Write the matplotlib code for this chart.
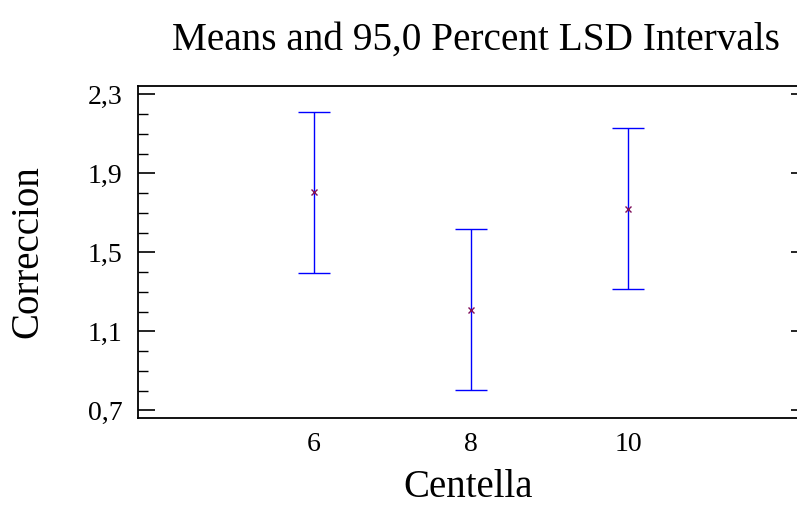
"""
Means and 95,0 Percent LSD Intervals - Correccion por Centella.
"""

import numpy as np
import matplotlib
matplotlib.use('Agg')
import matplotlib.pyplot as plt
from matplotlib.ticker import MultipleLocator

plt.rcParams['font.family'] = ['Liberation Serif', 'DejaVu Serif']

# Datos
levels = [6, 8, 10]
level_labels = ['6', '8', '10']
means = [1.805, 1.210, 1.720]
lower = [1.396, 0.804, 1.315]
upper = [2.212, 1.619, 2.130]

y_ticks = [0.7, 1.1, 1.5, 1.9, 2.3]
y_tick_labels = ['0,7', '1,1', '1,5', '1,9', '2,3']

LINE_COLOR = '#0000FF'
MARK_COLOR = '#80105A'

W, H = 797, 507
fig = plt.figure(figsize=(W / 100, H / 100), dpi=100)
ax = fig.add_axes([138 / W, 1 - 418 / H, (799 - 138) / W, (418 - 86) / H])

means = np.array(means)
err = [means - np.array(lower), np.array(upper) - means]
ax.errorbar(levels, means, yerr=err, fmt='none', ecolor=LINE_COLOR,
            elinewidth=1.0, capsize=11.5, capthick=1.0)
ax.plot(levels, means, linestyle='none', marker='x', markersize=5,
        markeredgewidth=1.0, color=MARK_COLOR)

ylim = (0.662, 2.343)
ax.set_xlim(3.755, 12.18)
ax.set_ylim(*ylim)

ax.set_xticks(levels)
ax.set_xticklabels(level_labels, fontsize=20)
ax.set_yticks(y_ticks)
ax.set_yticklabels(y_tick_labels, fontsize=20)
ax.yaxis.set_minor_locator(MultipleLocator(0.1))

ax.tick_params(axis='x', length=0, pad=10)
ax.tick_params(axis='y', which='major', direction='in', length=12, width=1.2,
               right=False, pad=11)
ax.tick_params(axis='y', which='minor', direction='in', length=7, width=1.0,
               right=False)

# ticks cortos en el lado derecho
ax_r = ax.twinx()
ax_r.set_ylim(*ylim)
ax_r.set_yticks(y_ticks)
ax_r.set_yticklabels([])
ax_r.tick_params(axis='y', direction='in', length=6, width=1.2)
for sp in ax_r.spines.values():
    sp.set_visible(False)

for sp in ax.spines.values():
    sp.set_linewidth(1.3)

ax.set_xlabel('Centella', fontsize=28, labelpad=9)
ax.set_ylabel('Correccion', fontsize=28)
ax.yaxis.set_label_coords((46 - 138) / (799 - 138), 0.5)
fig.text(476 / W, 1 - 50 / H, 'Means and 95,0 Percent LSD Intervals',
         fontsize=28.3, ha='center', va='baseline')

fig.savefig('out.png', dpi=100)
